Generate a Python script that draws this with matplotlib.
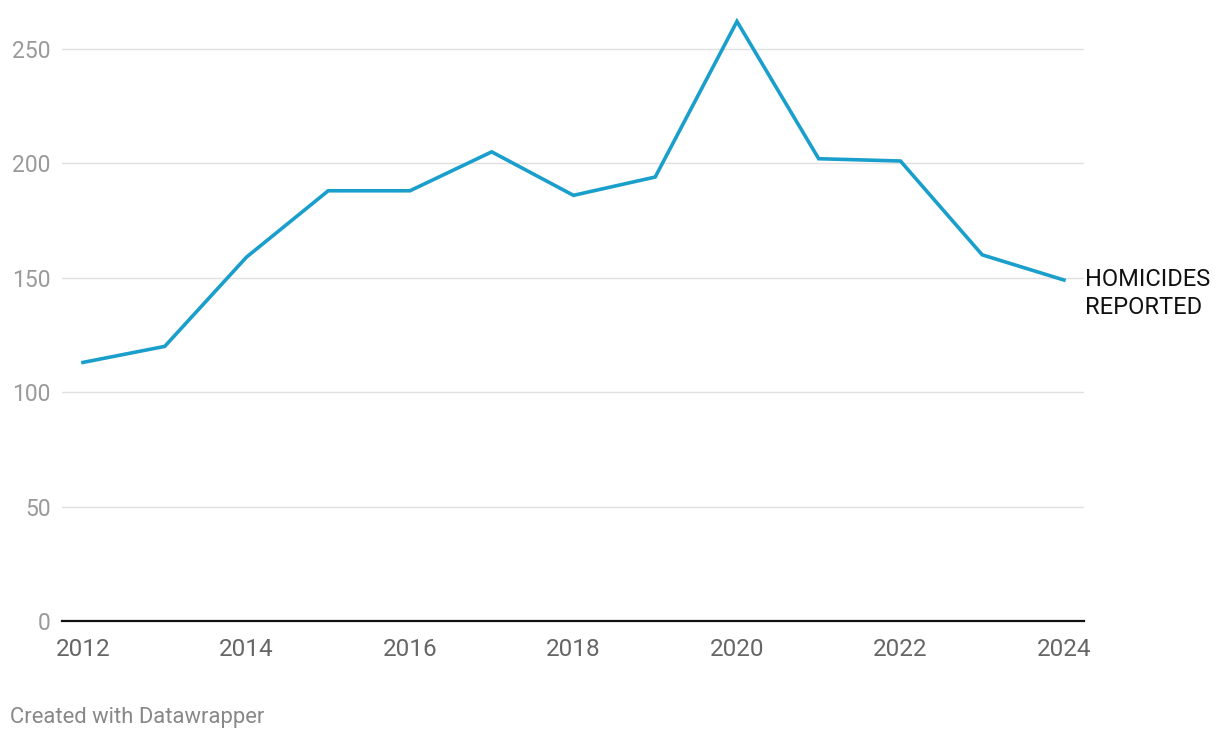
import matplotlib.pyplot as plt

plt.rcParams['font.family'] = ['Roboto', 'DejaVu Sans']

years = [2012, 2013, 2014, 2015, 2016, 2017, 2018, 2019, 2020, 2021, 2022, 2023, 2024]
homicides = [113, 120, 159, 188, 188, 205, 186, 194, 262, 202, 201, 160, 149]
yticks = [0, 50, 100, 150, 200, 250]
xticks = [2012, 2014, 2016, 2018, 2020, 2022, 2024]

fig = plt.figure(figsize=(12.2, 7.38), dpi=100)
ax = fig.add_axes([0.0508, 0.1585, 0.8377, 0.828])

ax.plot(years, homicides, color='#1a9fcc', lw=2.6, solid_joinstyle='miter', zorder=3)

ax.set_xlim(2011.743, 2024.245)
ax.set_ylim(0, 267)
ax.set_yticks(yticks)
ax.set_xticks(xticks)
ax.grid(axis='y', color='#e0e0e0', lw=1)
ax.set_axisbelow(True)
for s in ['top', 'right', 'left']:
    ax.spines[s].set_visible(False)
ax.spines['bottom'].set_color('#111111')
ax.spines['bottom'].set_linewidth(1.6)
ax.tick_params(axis='y', length=0, pad=8, labelsize=16.5, labelcolor='#9a9a9a')
ax.tick_params(axis='x', length=0, pad=12.5, labelsize=17.5, labelcolor='#666666')

ax.annotate('HOMICIDES\nREPORTED', xy=(years[-1], homicides[-1]), xytext=(15, 9),
            textcoords='offset points', va='top', ha='left', fontsize=17,
            color='#111111', linespacing=1.28, annotation_clip=False)

fig.text(0.008, 0.02, 'Created with Datawrapper', fontsize=15.8, color='#888888')

fig.savefig('out.png', dpi=100)
